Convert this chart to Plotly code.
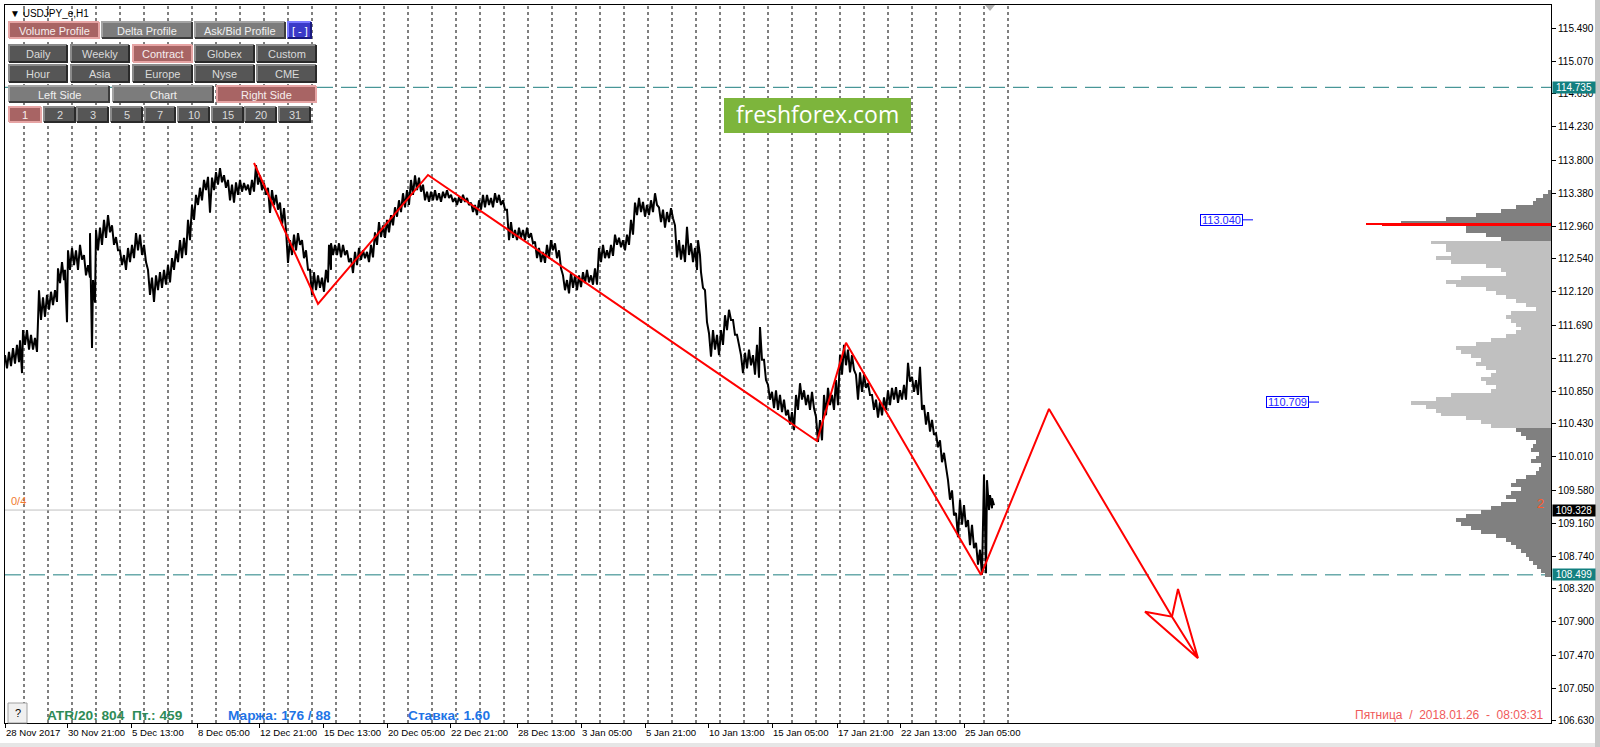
import plotly.graph_objects as go

# ---------------- data ----------------
# H1 price path (sampled bars): bar number, high, low
bar_idx = [5, 9, 13, 17, 20, 23, 27, 31, 35, 39,
           43, 47, 51, 55, 58, 62, 65, 68, 72, 76,
           80, 84, 88, 90, 93, 96, 100, 104, 108, 112,
           116, 120, 124, 128, 132, 136, 140, 144, 148, 152,
           156, 160, 164, 168, 172, 176, 180, 184, 188, 192,
           196, 200, 204, 208, 212, 216, 220, 224, 228, 232,
           236, 240, 244, 248, 252, 256, 260, 264, 268, 272,
           276, 280, 284, 286, 290, 294, 298, 302, 306, 310,
           314, 318, 322, 326, 329, 331, 335, 339, 343, 347,
           351, 355, 359, 363, 367, 371, 375, 379, 383, 387,
           391, 395, 399, 403, 407, 411, 415, 419, 423, 427,
           431, 435, 439, 443, 447, 451, 455, 459, 463, 467,
           471, 475, 479, 483, 487, 491, 495, 499, 503, 507,
           511, 515, 519, 523, 527, 531, 535, 539, 543, 547,
           551, 555, 559, 563, 567, 571, 575, 579, 583, 587,
           591, 595, 599, 603, 607, 611, 615, 619, 623, 627,
           631, 635, 639, 643, 647, 651, 655, 659, 663, 667,
           671, 675, 679, 683, 687, 691, 695, 698, 701, 705,
           709, 713, 717, 721, 725, 729, 733, 737, 741, 745,
           749, 753, 757, 760, 764, 768, 772, 776, 780, 784,
           788, 792, 796, 800, 804, 808, 812, 816, 820, 824,
           828, 832, 836, 840, 844, 848, 852, 856, 860, 864,
           868, 872, 876, 880, 884, 888, 892, 896, 900, 904,
           908, 912, 916, 920, 924, 928, 932, 936, 940, 944,
           948, 952, 956, 960, 964, 968, 972, 976, 980, 984,
           987, 990, 992]
bar_high = [111.31, 111.35, 111.40, 111.44, 111.50, 111.63, 111.63, 111.57, 111.53, 112.14,
            112.05, 112.08, 112.12, 112.14, 112.42, 112.50, 112.40, 112.65, 112.68, 112.65,
            112.72, 112.59, 112.46, 112.87, 112.27, 112.91, 112.94, 113.04, 113.10, 112.97,
            112.82, 112.65, 112.59, 112.68, 112.72, 112.87, 112.85, 112.72, 112.40, 112.30,
            112.33, 112.37, 112.40, 112.46, 112.55, 112.65, 112.78, 112.81, 113.04, 113.23,
            113.36, 113.45, 113.55, 113.59, 113.58, 113.65, 113.70, 113.61, 113.55, 113.49,
            113.52, 113.55, 113.51, 113.49, 113.55, 113.74, 113.61, 113.51, 113.45, 113.42,
            113.36, 113.26, 113.19, 112.91, 112.78, 112.85, 112.87, 112.78, 112.65, 112.40,
            112.37, 112.33, 112.30, 112.40, 112.72, 112.74, 112.72, 112.74, 112.72, 112.65,
            112.55, 112.63, 112.68, 112.65, 112.63, 112.72, 112.88, 113.01, 112.97, 113.04,
            113.10, 113.20, 113.29, 113.38, 113.42, 113.55, 113.61, 113.58, 113.49, 113.40,
            113.40, 113.42, 113.38, 113.40, 113.42, 113.36, 113.32, 113.33, 113.36, 113.32,
            113.26, 113.23, 113.29, 113.36, 113.36, 113.32, 113.38, 113.36, 113.29, 113.17,
            113.01, 112.91, 112.94, 112.91, 112.94, 112.87, 112.76, 112.68, 112.63, 112.72,
            112.78, 112.74, 112.65, 112.33, 112.27, 112.37, 112.33, 112.33, 112.37, 112.40,
            112.33, 112.42, 112.68, 112.72, 112.65, 112.72, 112.85, 112.81, 112.78, 112.85,
            113.04, 113.26, 113.32, 113.27, 113.23, 113.29, 113.38, 113.20, 113.17, 113.14,
            113.19, 112.97, 112.78, 112.72, 112.95, 112.74, 112.68, 112.78, 112.37, 112.14,
            111.59, 111.63, 111.57, 111.63, 111.82, 111.89, 111.76, 111.57, 111.31, 111.34,
            111.38, 111.31, 111.44, 111.67, 111.25, 110.93, 110.84, 110.86, 110.80, 110.74,
            110.61, 110.58, 110.80, 110.95, 110.86, 110.80, 110.84, 110.52, 110.48, 110.80,
            110.89, 110.80, 110.99, 111.31, 111.44, 111.38, 111.31, 111.06, 111.09, 111.06,
            110.95, 110.80, 110.74, 110.71, 110.77, 110.86, 110.89, 110.90, 110.86, 110.93,
            111.21, 111.03, 110.99, 111.16, 110.67, 110.58, 110.48, 110.31, 110.22, 110.06,
            109.71, 109.58, 109.29, 109.46, 109.39, 109.20, 109.14, 108.91, 108.82, 109.78,
            109.71, 109.52, 109.48]
bar_low = [111.14, 111.17, 111.20, 111.22, 111.08, 111.44, 111.38, 111.38, 111.35, 111.76,
           111.80, 111.89, 111.95, 111.99, 112.23, 112.27, 111.73, 112.40, 112.46, 112.40,
           112.53, 112.33, 112.30, 111.40, 111.98, 112.65, 112.72, 112.81, 112.88, 112.72,
           112.65, 112.46, 112.40, 112.50, 112.55, 112.65, 112.59, 112.50, 112.08, 111.99,
           112.14, 112.17, 112.21, 112.24, 112.40, 112.50, 112.55, 112.59, 112.78, 113.04,
           113.23, 113.29, 113.42, 113.13, 113.42, 113.49, 113.52, 113.45, 113.29, 113.26,
           113.36, 113.40, 113.42, 113.36, 113.40, 113.49, 113.42, 113.36, 113.13, 113.23,
           113.17, 112.97, 112.95, 112.49, 112.59, 112.65, 112.72, 112.55, 112.40, 112.08,
           112.14, 112.17, 112.12, 112.24, 112.40, 112.59, 112.59, 112.56, 112.59, 112.50,
           112.36, 112.46, 112.53, 112.55, 112.50, 112.56, 112.72, 112.82, 112.81, 112.88,
           112.97, 113.08, 113.14, 113.20, 113.23, 113.36, 113.42, 113.40, 113.29, 113.27,
           113.29, 113.29, 113.27, 113.32, 113.32, 113.27, 113.23, 113.26, 113.27, 113.23,
           113.14, 113.10, 113.17, 113.20, 113.23, 113.20, 113.26, 113.23, 113.17, 112.78,
           112.81, 112.78, 112.81, 112.78, 112.81, 112.74, 112.55, 112.50, 112.49, 112.55,
           112.65, 112.55, 112.42, 112.14, 112.10, 112.17, 112.14, 112.18, 112.23, 112.24,
           112.21, 112.21, 112.50, 112.55, 112.55, 112.58, 112.72, 112.69, 112.65, 112.72,
           112.85, 113.10, 113.14, 113.08, 113.10, 113.14, 113.23, 113.01, 112.94, 113.01,
           113.06, 112.56, 112.53, 112.50, 112.59, 112.50, 112.40, 112.59, 112.17, 111.73,
           111.29, 111.38, 111.31, 111.44, 111.63, 111.76, 111.57, 111.44, 111.08, 111.14,
           111.18, 111.06, 111.02, 111.25, 110.99, 110.74, 110.63, 110.61, 110.58, 110.54,
           110.42, 110.35, 110.61, 110.74, 110.67, 110.61, 110.63, 110.20, 110.22, 110.54,
           110.67, 110.61, 110.67, 111.06, 111.18, 111.09, 111.12, 110.74, 110.84, 110.89,
           110.80, 110.61, 110.51, 110.54, 110.61, 110.67, 110.74, 110.70, 110.74, 110.74,
           110.97, 110.84, 110.80, 110.61, 110.42, 110.33, 110.29, 110.13, 109.94, 109.88,
           109.46, 109.26, 108.98, 109.14, 109.11, 108.88, 108.84, 108.63, 108.499, 108.52,
           109.33, 109.35, 109.39]

# daily period separators (bar numbers)
separator_bars = [24, 48, 72, 96, 120, 144, 168, 192, 216, 240, 264, 288, 312, 336,
                  360, 384, 408, 432, 456, 480, 504, 528, 552, 576, 600, 624, 648, 672,
                  696, 720, 744, 768, 792, 816, 840, 864, 888, 912, 936, 960, 984, 1008]

x_tick_bars = [5, 67, 131, 197, 259, 323, 387, 450, 517, 581, 645, 708, 772, 837, 900, 964]
x_tick_text = ["28 Nov 2017", "30 Nov 21:00", "5 Dec 13:00", "8 Dec 05:00", "12 Dec 21:00",
               "15 Dec 13:00", "20 Dec 05:00", "22 Dec 21:00", "28 Dec 13:00", "3 Jan 05:00",
               "5 Jan 21:00", "10 Jan 13:00", "15 Jan 05:00", "17 Jan 21:00", "22 Jan 13:00",
               "25 Jan 05:00"]
y_ticks = [115.490, 115.070, 114.650, 114.230, 113.800, 113.380, 112.960, 112.540, 112.120,
           111.690, 111.270, 110.850, 110.430, 110.010, 109.580, 109.160, 108.740, 108.320,
           107.900, 107.470, 107.050, 106.630]

# red wave drawing
wave_bars = [254, 318, 428, 817, 846, 981, 1049, 1172]
wave_price = [113.767, 111.964, 113.614, 110.211, 111.469, 108.499, 110.621, 107.964]
arrow_bars = [1172, 1198, 1145, 1172, 1178, 1198]
arrow_price = [107.964, 107.432, 108.028, 107.964, 108.318, 107.432]

# levels
resistance_level = 114.735
support_level = 108.499
bid_price = 109.328
blue_levels = [113.040, 110.709]
blue_level_bars = [1200, 1266]

# volume profile (contract)
profile_price = [113.40, 113.35, 113.30, 113.25, 113.20, 113.15, 113.10, 113.05, 113.00, 112.95,
                 112.90, 112.85, 112.80, 112.75, 112.70, 112.65, 112.60, 112.55, 112.50, 112.45,
                 112.40, 112.35, 112.30, 112.25, 112.20, 112.15, 112.10, 112.05, 112.00, 111.95,
                 111.90, 111.85, 111.80, 111.75, 111.70, 111.65, 111.60, 111.55, 111.50, 111.45,
                 111.40, 111.35, 111.30, 111.25, 111.20, 111.15, 111.10, 111.05, 111.00, 110.95,
                 110.90, 110.85, 110.80, 110.75, 110.70, 110.65, 110.60, 110.55, 110.50, 110.45,
                 110.40, 110.35, 110.30, 110.25, 110.20, 110.15, 110.10, 110.05, 110.00, 109.95,
                 109.90, 109.85, 109.80, 109.75, 109.70, 109.65, 109.60, 109.55, 109.50, 109.45,
                 109.40, 109.35, 109.30, 109.25, 109.20, 109.15, 109.10, 109.05, 109.00, 108.95,
                 108.90, 108.85, 108.80, 108.75, 108.70, 108.65, 108.60, 108.55, 108.50]
profile_volume = [3, 8, 15, 18, 35, 50, 75, 105, 150, 85,
                  85, 65, 50, 120, 105, 105, 100, 115, 100, 65,
                  50, 45, 90, 105, 95, 65, 55, 45, 35, 25,
                  15, 40, 45, 40, 35, 30, 35, 45, 60, 75,
                  95, 90, 80, 70, 75, 65, 55, 60, 70, 65,
                  55, 60, 100, 115, 140, 125, 115, 110, 85, 70,
                  60, 35, 30, 25, 15, 18, 20, 12, 15, 20,
                  10, 12, 15, 25, 35, 40, 30, 40, 45, 35,
                  50, 60, 70, 85, 95, 90, 80, 70, 55, 45,
                  40, 35, 30, 25, 22, 18, 14, 10, 6]
value_area_high = 112.77
value_area_low = 110.38
poc_price = 112.985
poc_volume = 185
poc_volume_main = 169

# ---------------- geometry helpers ----------------
W, H = 1600, 747
ML, MR, MT, MB = 5, 49, 5, 24
PW, PH = W - ML - MR, H - MT - MB
X_RIGHT = 1551
Y_MAX, Y_MIN = 115.788, 106.604


def px(x):
    return (x - ML) / PW


def py(y):
    return 1 - (y - MT) / PH


FONT = "Liberation Sans"

fig = go.Figure()

# price path as dense zig-zag (high/low of each sampled bar)
xs, ys = [], []
for b, h, l in zip(bar_idx, bar_high, bar_low):
    xs += [b, b + 2]
    ys += [h, l]
fig.add_trace(go.Scatter(x=xs, y=ys, mode="lines", line=dict(color="black", width=2),
                         hoverinfo="skip"))

# volume profile
prof_colors = ["#c0c0c0" if value_area_low <= p <= value_area_high else "#808080"
               for p in profile_price]
fig.add_trace(go.Bar(y=profile_price, x=[-v for v in profile_volume], base=X_RIGHT,
                     orientation="h", width=0.05,
                     marker=dict(color=prof_colors, line=dict(width=0)), hoverinfo="skip"))
fig.add_trace(go.Bar(y=[poc_price], x=[-poc_volume], base=X_RIGHT, orientation="h",
                     width=0.013, marker=dict(color="#ff0000", line=dict(width=0)),
                     hoverinfo="skip"))
fig.add_trace(go.Bar(y=[poc_price], x=[-poc_volume_main], base=X_RIGHT, orientation="h",
                     width=0.038, marker=dict(color="#ff0000", line=dict(width=0)),
                     hoverinfo="skip"))

# red wave
fig.add_trace(go.Scatter(x=wave_bars, y=wave_price, mode="lines",
                         line=dict(color="#ff0000", width=2), hoverinfo="skip"))
fig.add_trace(go.Scatter(x=arrow_bars, y=arrow_price, mode="lines",
                         line=dict(color="#ff0000", width=2), hoverinfo="skip"))

shapes = []
# period separators
for b in separator_bars:
    shapes.append(dict(type="line", xref="x", yref="paper", x0=b, x1=b, y0=0, y1=1,
                       line=dict(color="black", width=1, dash="3px,3px"), layer="below"))
# horizontal levels
for lv in [resistance_level, support_level]:
    shapes.append(dict(type="line", xref="paper", yref="y", x0=0, x1=1, y0=lv, y1=lv,
                       line=dict(color="#1f7f80", width=1, dash="16px,8px"), layer="below"))
shapes.append(dict(type="line", xref="paper", yref="y", x0=0, x1=1, y0=bid_price, y1=bid_price,
                   line=dict(color="#c0c0c0", width=1), layer="below"))

annotations = []

# blue level boxes
for b, lv in zip(blue_level_bars, blue_levels):
    annotations.append(dict(x=b, y=lv, xref="x", yref="y", xanchor="left", yanchor="middle",
                            text=f"{lv:.3f}", showarrow=False,
                            font=dict(family=FONT, size=11, color="#2a2aff"),
                            bgcolor="white", bordercolor="#0000ff", borderwidth=1, borderpad=0,
                            width=41, height=10))
    shapes.append(dict(type="line", xref="x", yref="y", x0=b + 43, x1=b + 53, y0=lv, y1=lv,
                       line=dict(color="#0000ff", width=1)))

# price labels on the axis
for lv, bg in [(resistance_level, "#138080"), (bid_price, "#000000"), (support_level, "#138080")]:
    annotations.append(dict(x=1, y=lv, xref="paper", yref="y", xanchor="left", yanchor="middle",
                            xshift=1, text=f"{lv:.3f}", showarrow=False,
                            font=dict(family=FONT, size=10, color="white"),
                            bgcolor=bg, borderpad=0, width=42, height=11))

# buttons panel
buttons = [
    ("Volume Profile", 9, 22, 99, 38, "red"),
    ("Delta Profile", 102, 22, 192, 38, "mid"),
    ("Ask/Bid Profile", 195, 22, 285, 38, "mid"),
    ("[ - ]", 288, 22, 311, 38, "blue"),
    ("Daily", 9, 45, 67, 62, "dark"),
    ("Weekly", 71, 45, 129, 62, "dark"),
    ("Contract", 133, 45, 192, 62, "red"),
    ("Globex", 195, 45, 254, 62, "dark"),
    ("Custom", 257, 45, 316, 62, "dark"),
    ("Hour", 9, 65, 67, 82, "dark"),
    ("Asia", 71, 65, 129, 82, "dark"),
    ("Europe", 133, 65, 192, 82, "dark"),
    ("Nyse", 195, 65, 254, 82, "dark"),
    ("CME", 257, 65, 316, 82, "dark"),
    ("Left Side", 9, 86, 109, 102, "mid"),
    ("Chart", 113, 86, 213, 102, "mid"),
    ("Right Side", 217, 86, 316, 102, "red"),
    ("1", 9, 107, 41, 122, "red"),
    ("2", 44, 107, 75, 122, "dark"),
    ("3", 77, 107, 108, 122, "dark"),
    ("5", 111, 107, 142, 122, "dark"),
    ("7", 145, 107, 175, 122, "dark"),
    ("10", 178, 107, 209, 122, "dark"),
    ("15", 212, 107, 243, 122, "dark"),
    ("20", 245, 107, 276, 122, "dark"),
    ("31", 279, 107, 310, 122, "dark"),
]
styles = {
    "red": ("#a86464", "#e6a4a4", "#e6a4a4", "#f6eeee"),
    "mid": ("#7c7c7c", "#a4a4a4", "#3c3c3c", "#f0f0f0"),
    "dark": ("#565656", "#8a8a8a", "#2a2a2a", "#dadada"),
    "blue": ("#3a3ac8", "#7a7aff", "#1a1a80", "#ffffff"),
}
for label, x0, y0, x1, y1, st in buttons:
    fill, hi, lo, tc = styles[st]
    shapes.append(dict(type="rect", xref="paper", yref="paper", x0=px(x0), x1=px(x1),
                       y0=py(y1), y1=py(y0), fillcolor=fill, line=dict(width=0), layer="above"))
    shapes.append(dict(type="path", xref="paper", yref="paper",
                       path=f"M {px(x0)},{py(y1)} L {px(x0)},{py(y0)} L {px(x1)},{py(y0)}",
                       line=dict(color=hi, width=2), layer="above"))
    shapes.append(dict(type="path", xref="paper", yref="paper",
                       path=f"M {px(x1)},{py(y0)} L {px(x1)},{py(y1)} L {px(x0)},{py(y1)}",
                       line=dict(color=lo, width=2), layer="above"))
    annotations.append(dict(x=px((x0 + x1) / 2), y=py((y0 + y1) / 2 + 0.5), xref="paper",
                            yref="paper", text=label, showarrow=False, xanchor="center",
                            yanchor="middle", font=dict(family=FONT, size=11, color=tc)))

# symbol caption
annotations.append(dict(x=px(8), y=py(13), xref="paper", yref="paper", xanchor="left",
                        yanchor="middle", text="▼ USDJPY_e,H1", showarrow=False,
                        font=dict(family=FONT, size=10, color="black")))

# logo
shapes.append(dict(type="rect", xref="paper", yref="paper", x0=px(724), x1=px(911),
                   y0=py(133), y1=py(98), fillcolor="#7db53c", line=dict(width=0),
                   layer="above"))
annotations.append(dict(x=px(817.5), y=py(114), xref="paper", yref="paper", xanchor="center",
                        yanchor="middle", text="freshforex.com", showarrow=False,
                        font=dict(family="Open Sans", size=23, color="white")))

# "0/4" and "2" marks
annotations.append(dict(x=px(9), y=py(501), xref="paper", yref="paper", xanchor="left",
                        yanchor="middle", text="0/4", showarrow=False,
                        font=dict(family=FONT, size=11, color="#f07a30")))
annotations.append(dict(x=px(1546), y=py(503), xref="paper", yref="paper", xanchor="right",
                        yanchor="middle", text="2", showarrow=False,
                        font=dict(family=FONT, size=13, color="#ff5a2a")))

# help button
shapes.append(dict(type="rect", xref="paper", yref="paper", x0=px(8), x1=px(27),
                   y0=py(723), y1=py(703), fillcolor="#f0f0f0",
                   line=dict(color="#a0a0a0", width=1), layer="above"))
annotations.append(dict(x=px(17.5), y=py(713), xref="paper", yref="paper", text="?",
                        xanchor="center", yanchor="middle", showarrow=False,
                        font=dict(family=FONT, size=11, color="black")))

# info texts
INFO_SIZE = 13.7
annotations.append(dict(x=px(45), y=py(715), xref="paper", yref="paper", xanchor="left",
                        yanchor="middle", text="<b>ATR/20: 804  Пт.: 459</b>", showarrow=False,
                        font=dict(family=FONT, size=INFO_SIZE, color="#2e8b57")))
annotations.append(dict(x=px(226), y=py(715), xref="paper", yref="paper", xanchor="left",
                        yanchor="middle", text="<b>Маржа: 176 / 88</b>", showarrow=False,
                        font=dict(family=FONT, size=INFO_SIZE, color="#1e74e6")))
annotations.append(dict(x=px(406), y=py(715), xref="paper", yref="paper", xanchor="left",
                        yanchor="middle", text="<b>Ставка: 1.60</b>", showarrow=False,
                        font=dict(family=FONT, size=INFO_SIZE, color="#1e74e6")))
annotations.append(dict(x=px(1546), y=py(715), xref="paper", yref="paper", xanchor="right",
                        yanchor="middle", text="Пятница  /  2018.01.26  -  08:03:31",
                        showarrow=False, font=dict(family=FONT, size=12, color="#f05a5a")))

# chart shift marker
shapes.append(dict(type="path", xref="paper", yref="paper",
                   path=f"M {px(985)},{py(5)} L {px(995)},{py(5)} L {px(990)},{py(11)} Z",
                   fillcolor="#b0b0b0", line=dict(width=0), layer="above"))

# window frame
shapes.append(dict(type="rect", xref="paper", yref="paper", x0=px(1595), x1=px(1600),
                   y0=py(747), y1=py(0), fillcolor="#c8c8c8", line=dict(width=0)))
shapes.append(dict(type="rect", xref="paper", yref="paper", x0=px(0), x1=px(1595),
                   y0=py(747), y1=py(743), fillcolor="#e6e6e6", line=dict(width=0)))

fig.update_layout(
    width=W, height=H,
    margin=dict(l=ML, r=MR, t=MT, b=MB, pad=0, autoexpand=False),
    paper_bgcolor="white", plot_bgcolor="white",
    showlegend=False, barmode="overlay", bargap=0,
    shapes=shapes, annotations=annotations,
    xaxis=dict(range=[ML, X_RIGHT], tickvals=x_tick_bars, ticktext=x_tick_text,
               tickangle=0, automargin=False,
               ticklabelposition="outside right", ticks="outside", ticklen=4,
               tickcolor="black", showline=True, linecolor="black", linewidth=1, mirror=True,
               showgrid=False, zeroline=False,
               tickfont=dict(family=FONT, size=9.6, color="black")),
    yaxis=dict(range=[Y_MIN, Y_MAX], side="right", tickvals=y_ticks, automargin=False,
               ticktext=[f"{v:.3f}" for v in y_ticks], ticks="outside", ticklen=4,
               tickcolor="black", showline=True, linecolor="black", linewidth=1, mirror=True,
               showgrid=False, zeroline=False,
               tickfont=dict(family=FONT, size=10, color="black")),
)

fig.write_html("out.html", config={"displayModeBar": False},
               post_script="document.body.style.margin='0px';"
                           "document.body.style.overflow='hidden';")
